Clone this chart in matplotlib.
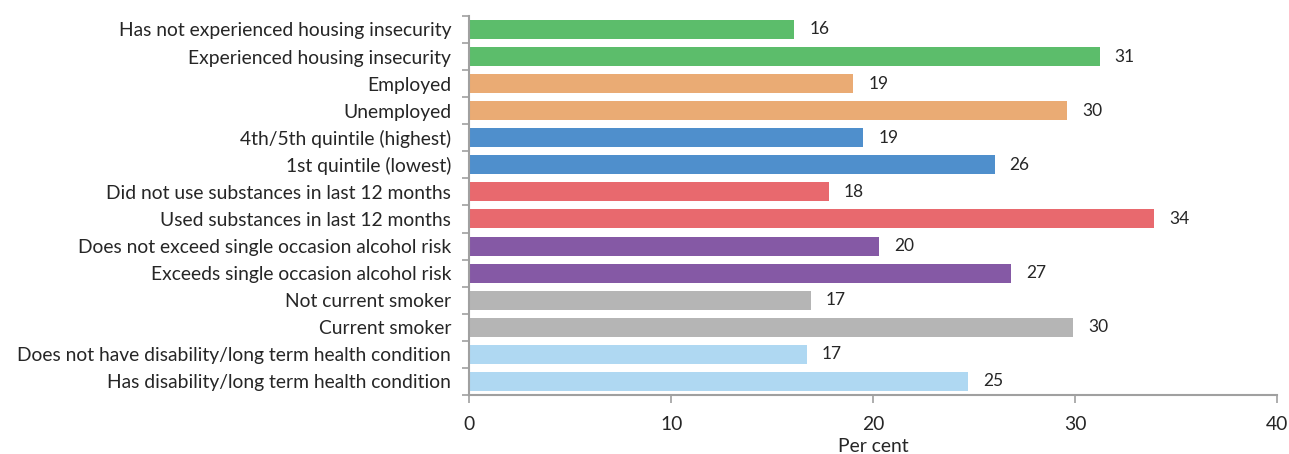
import matplotlib.pyplot as plt
import numpy as np

plt.rcParams['font.family'] = ['Lato', 'DejaVu Sans']

# Categories (top to bottom) and values in per cent
categories = [
    "Has not experienced housing insecurity",
    "Experienced housing insecurity",
    "Employed",
    "Unemployed",
    "4th/5th quintile (highest)",
    "1st quintile (lowest)",
    "Did not use substances in last 12 months",
    "Used substances in last 12 months",
    "Does not exceed single occasion alcohol risk",
    "Exceeds single occasion alcohol risk",
    "Not current smoker",
    "Current smoker",
    "Does not have disability/long term health condition",
    "Has disability/long term health condition",
]
values = [16.1, 31.2, 19.0, 29.6, 19.5, 26.0, 17.8, 33.9, 20.3, 26.8, 16.9, 29.9, 16.7, 24.7]
labels = ["16", "31", "19", "30", "19", "26", "18", "34", "20", "27", "17", "30", "17", "25"]
colors = ["#5cbd6b", "#5cbd6b", "#eaab74", "#eaab74", "#4f8fcc", "#4f8fcc",
          "#e8696e", "#e8696e", "#8559a5", "#8559a5", "#b5b5b5", "#b5b5b5",
          "#afd8f2", "#afd8f2"]

fig = plt.figure(figsize=(12.89, 4.54), dpi=100)
ax = fig.add_axes([0.364, 0.130, 0.627, 0.835])

y = np.arange(len(categories))
bars = ax.barh(y, values, height=0.7, color=colors)

for bar, lab in zip(bars, labels):
    ax.text(bar.get_width() + 0.75, bar.get_y() + bar.get_height() / 2, lab,
            ha='left', va='center', fontsize=12.5, color='#262626')

ax.set_ylim(len(categories) - 0.5, -0.5)
ax.set_yticks(y)
ax.set_yticklabels(categories, fontsize=13.9, color='#262626')
ax.set_yticks(np.arange(-0.5, len(categories), 1), minor=True)
ax.tick_params(axis='y', which='major', length=0, pad=13)
ax.tick_params(axis='y', which='minor', length=5, color='#a0a0a0', width=1.2)

ax.set_xlim(0, 40)
ax.set_xticks([0, 10, 20, 30, 40])
ax.tick_params(axis='x', length=6, color='#a0a0a0', width=1.2, labelsize=13.9,
               labelcolor='#262626', pad=9)
ax.set_xlabel("Per cent", fontsize=13.9, color='#262626', labelpad=4)

for s in ['top', 'right']:
    ax.spines[s].set_visible(False)
for s in ['left', 'bottom']:
    ax.spines[s].set_color('#a0a0a0')
    ax.spines[s].set_linewidth(1.5)

fig.savefig("out.png", dpi=100)
